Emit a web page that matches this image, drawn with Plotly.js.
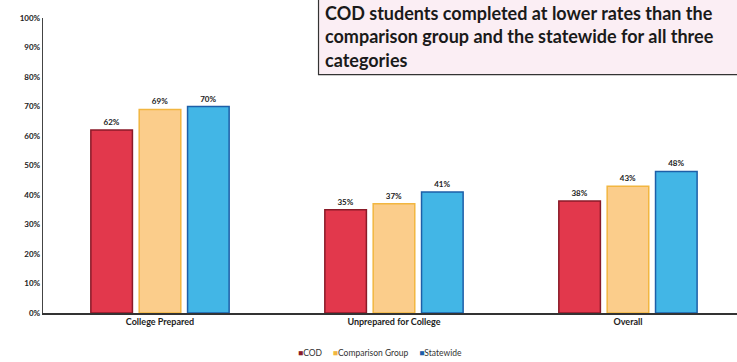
<!DOCTYPE html>
<html>
<head>
<meta charset="utf-8">
<script src="https://cdn.plot.ly/plotly-3.0.1.min.js"></script>
<style>html,body{margin:0;padding:0;background:#fff;overflow:hidden}#chart{width:737px;height:362px}</style>
</head>
<body>
<div id="chart"></div>
<script>
const categories = ["College Prepared", "Unprepared for College", "Overall"];
const cod = [62, 35, 38];
const comparison = [69, 37, 43];
const statewide = [70, 41, 48];
const seriesNames = ["COD", "Comparison Group", "Statewide"];
const seriesColors = ["#e2384c", "#fbcd8b", "#42b6e6"];
const seriesLines = ["#8a1a28", "#f2b640", "#1d5fa8"];
const yTickVals = [0,10,20,30,40,50,60,70,80,90,100];
const yTickText = ["0%","10%","20%","30%","40%","50%","60%","70%","80%","90%","100%"];
const titleLines = ["COD students completed at lower rates than the", "comparison group and the statewide for all three", "categories"];

const lblFont = {family: "Lato, 'Open Sans', sans-serif", size: 8, color: "#222", weight: "bold"};
const seriesVals = [cod, comparison, statewide];
const data = seriesVals.map((vals, i) => ({
  type: "bar", name: seriesNames[i], x: categories, y: vals,
  marker: {color: seriesColors[i], line: {color: seriesLines[i], width: 1.5}},
  text: vals.map(v => v + "%"), textposition: "outside",
  textfont: lblFont, cliponaxis: false
}));
const legendText = seriesNames.map((n, i) =>
  '<span style="color:' + seriesLines[i] + '">■</span>' + n).join("&nbsp;&nbsp;&nbsp;&nbsp;&nbsp;");
const layout = {
  width: 737, height: 362,
  margin: {l: 43, r: 0, t: 18, b: 49},
  paper_bgcolor: "#fff", plot_bgcolor: "#fff",
  barmode: "group", bargap: 0.38, bargroupgap: 0.14,
  showlegend: false,
  xaxis: {range: [-0.5, 2.466], showline: true, linecolor: "#333", linewidth: 1.5, ticks: "", automargin: false,
          tickfont: {family: "Lato, sans-serif", size: 9, color: "#222", weight: "bold"}},
  yaxis: {range: [0, 100], tickvals: yTickVals, ticktext: yTickText, showgrid: false, zeroline: false,
          showline: true, linecolor: "#444", linewidth: 1.2, ticks: "", automargin: false,
          tickfont: {family: "Lato, sans-serif", size: 8, color: "#222", weight: "bold"}},
  shapes: [{type: "rect", xref: "paper", yref: "paper", x0: 0.397, x1: 1.1, y0: 0.808, y1: 1.2,
            fillcolor: "#fbeef4", line: {color: "#333", width: 1.2}, layer: "above"}],
  annotations: [
    {xref: "paper", yref: "paper", x: 0.403, y: 1.062, xanchor: "left", yanchor: "top",
     align: "left", showarrow: false, text: titleLines.join("<br>"),
     font: {family: "Lato, sans-serif", size: 18, color: "#1a1a1a", weight: "bold"}},
    {xref: "paper", yref: "paper", x: 0.485, y: -0.135, xanchor: "center", yanchor: "middle",
     showarrow: false, text: legendText,
     font: {family: "Lato, sans-serif", size: 8.5, color: "#333"}}
  ]
};
Plotly.newPlot("chart", data, layout, {displayModeBar: false, staticPlot: true});
</script>
</body>
</html>
